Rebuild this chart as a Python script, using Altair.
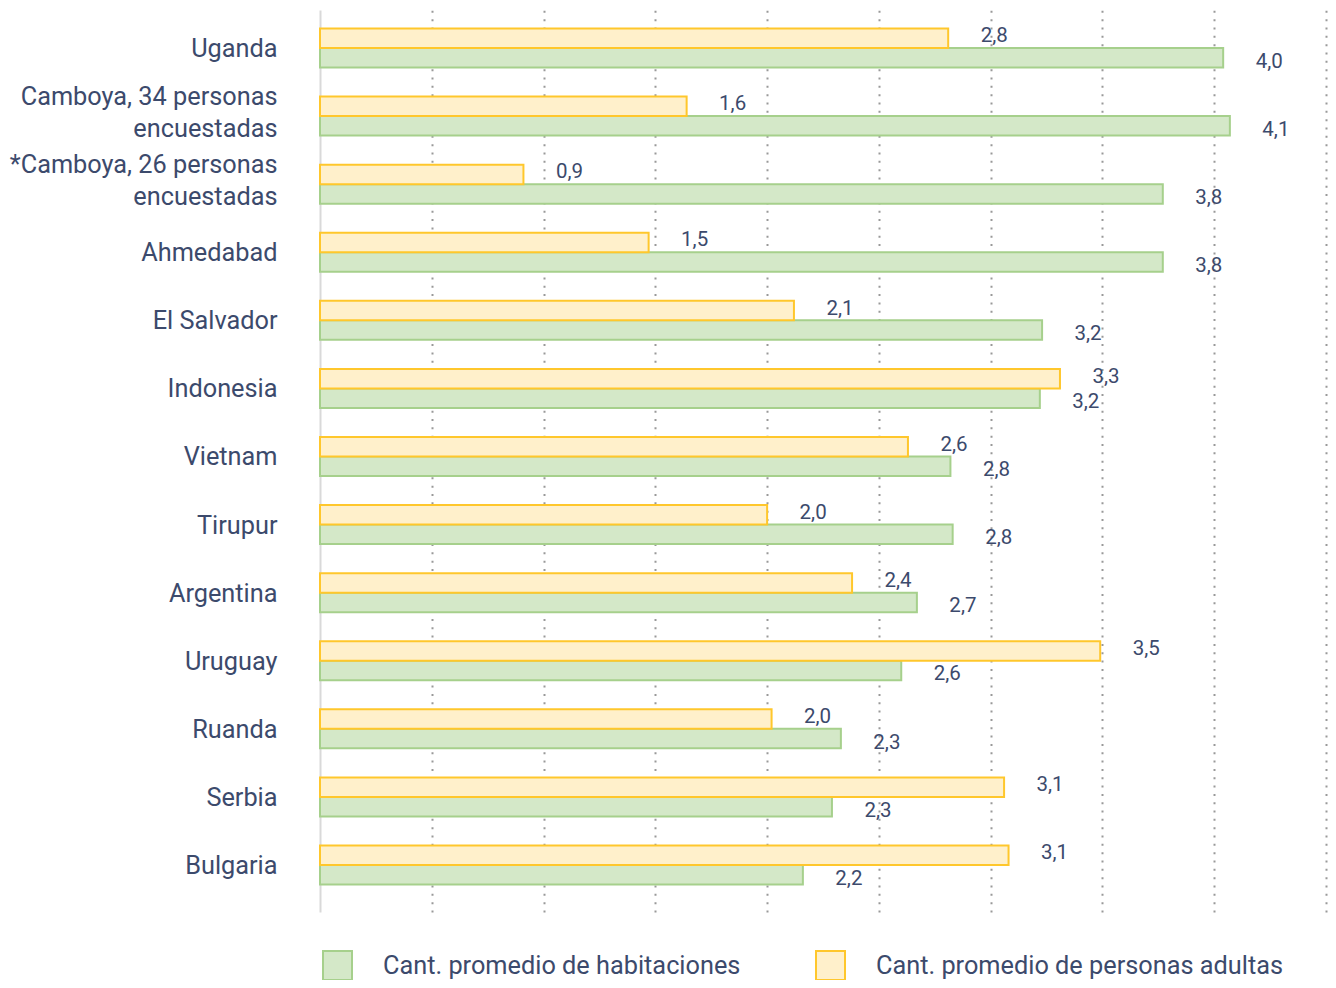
import altair as alt
import pandas as pd

categorias = ["Uganda", "Camboya, 34 personas|encuestadas", "*Camboya, 26 personas|encuestadas",
              "Ahmedabad", "El Salvador", "Indonesia", "Vietnam", "Tirupur", "Argentina",
              "Uruguay", "Ruanda", "Serbia", "Bulgaria"]
habitaciones = [4.04, 4.07, 3.77, 3.77, 3.23, 3.22, 2.82, 2.83, 2.67, 2.60, 2.33, 2.29, 2.16]
habitaciones_etq = ["4,0", "4,1", "3,8", "3,8", "3,2", "3,2", "2,8", "2,8", "2,7", "2,6", "2,3", "2,3", "2,2"]
adultas = [2.81, 1.64, 0.91, 1.47, 2.12, 3.31, 2.63, 2.00, 2.38, 3.49, 2.02, 3.06, 3.08]
adultas_etq = ["2,8", "1,6", "0,9", "1,5", "2,1", "3,3", "2,6", "2,0", "2,4", "3,5", "2,0", "3,1", "3,1"]

S_HAB = "Cant. promedio de habitaciones"
S_ADU = "Cant. promedio de personas adultas"
grid_vals = [0.5, 1.0, 1.5, 2.0, 2.5, 3.0, 3.5, 4.0, 4.5]

rows = []
for c, v, e in zip(categorias, habitaciones, habitaciones_etq):
    rows.append({"cat": c, "serie": S_HAB, "valor": v, "etq": e})
for c, v, e in zip(categorias, adultas, adultas_etq):
    rows.append({"cat": c, "serie": S_ADU, "valor": v, "etq": e})
df = pd.DataFrame(rows)

TXT = "#3c4a6c"
FONT = "Roboto"

y_enc = alt.Y("cat:N", sort=categorias, title=None,
              scale=alt.Scale(paddingInner=0.427, paddingOuter=0.338, align=0.402),
              axis=alt.Axis(labelExpr="split(datum.label, '|')", labelFontSize=25.3,
                            labelFont=FONT, labelColor=TXT, labelPadding=43,
                            labelLineHeight=32, labelLimit=0, ticks=False,
                            domain=True, domainColor="#d9d9d9", domainWidth=2,
                            grid=False,
                            labelOffset={"condition": {"test": "indexof(datum.label, '|') >= 0",
                                                       "value": -19},
                                         "value": 1}))
yoff_enc = alt.YOffset("serie:N", sort=[S_ADU, S_HAB],
                       scale=alt.Scale(paddingInner=0, paddingOuter=0))
x_enc = alt.X("valor:Q", title=None,
              scale=alt.Scale(domain=[0, 4.5], nice=False, zero=True),
              axis=alt.Axis(values=grid_vals, grid=True, gridDash=[2, 6.33],
                            gridColor="#999999", gridWidth=2, labels=False,
                            ticks=False, domain=False))

leg = alt.Legend(orient="none", legendX=2, legendY=940, direction="horizontal",
                 title=None, symbolType="square", symbolSize=841,
                 symbolStrokeWidth=2, labelFontSize=25.3, labelFont=FONT,
                 labelColor=TXT, labelOffset=30, columnPadding=71,
                 symbolOpacity=1, labelLimit=0, padding=0)

bars = alt.Chart(df).mark_bar(strokeWidth=2).encode(
    x=x_enc, y=y_enc, yOffset=yoff_enc,
    fill=alt.Fill("serie:N", sort=[S_HAB, S_ADU],
                  scale=alt.Scale(domain=[S_HAB, S_ADU], range=["#d4e8c8", "#fff0cb"]),
                  legend=leg),
    stroke=alt.Stroke("serie:N", sort=[S_HAB, S_ADU],
                      scale=alt.Scale(domain=[S_HAB, S_ADU], range=["#a6d08c", "#ffc72c"]),
                      legend=leg),
    order=alt.Order("serie:N", sort="ascending"),
)

txt_adu = alt.Chart(df).transform_filter(alt.datum.serie == S_ADU).mark_text(
    align="center", baseline="middle", dx=46, dy=-2, fontSize=20.5, font=FONT, color=TXT
).encode(x=x_enc, y=y_enc, yOffset=yoff_enc, text="etq:N")

txt_hab = alt.Chart(df).transform_filter(alt.datum.serie == S_HAB).mark_text(
    align="center", baseline="middle", dx=46, dy=4, fontSize=20.5, font=FONT, color=TXT
).encode(x=x_enc, y=y_enc, yOffset=yoff_enc, text="etq:N")

chart = alt.layer(bars, txt_adu, txt_hab).properties(
    width=1006, height=902,
    autosize=alt.AutoSizeParams(type="none"),
    padding={"left": 312, "top": 2, "right": 2, "bottom": 68},
).configure(font=FONT).configure_view(stroke="transparent", strokeWidth=0)

chart.save("out.html", embed_options={"renderer": "svg", "actions": False})
